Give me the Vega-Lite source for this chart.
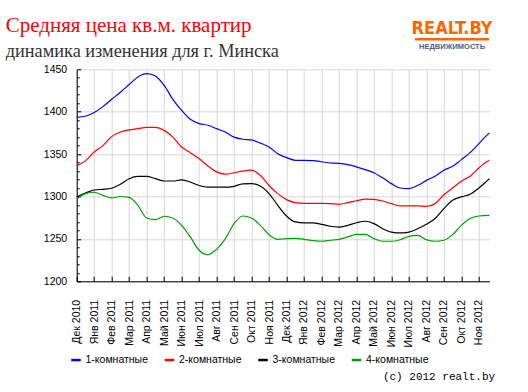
{
  "$schema": "https://vega.github.io/schema/vega-lite/v6.json",
  "width": 412.8,
  "height": 212,
  "autosize": {"type": "none"},
  "padding": {"left": 76.7, "top": 69.3, "right": 38.5, "bottom": 110.7},
  "background": "#ffffff",
  "title": {
    "text": "Средняя цена кв.м. квартир",
    "subtitle": "динамика изменения для г. Минска",
    "anchor": "start",
    "frame": "group",
    "dx": -71,
    "dy": 52,
    "offset": 12,
    "font": "Liberation Serif",
    "fontSize": 21,
    "fontWeight": "normal",
    "color": "#ff0000",
    "subtitleFont": "Liberation Serif",
    "subtitleFontSize": 18.3,
    "subtitleColor": "#333333",
    "subtitlePadding": 7
  },
  "config": {
    "view": {"stroke": null},
    "axis": {"labelFont": "Liberation Sans", "labelFontSize": 10.5, "labelColor": "#000000", "domainColor": "#000000", "tickColor": "#000000", "gridColor": "#d6d6d6", "gridWidth": 1, "title": null}
  },
  "resolve": {"axis": {"x": "independent", "y": "independent"}},
  "data": {
    "values": [
      {"m": 0, "a": 1393.4, "b": 1336.4, "c": 1299.5, "d": 1297},
      {"m": 0.5, "a": 1394.6, "b": 1342, "c": 1304, "d": 1303.4},
      {"m": 1, "a": 1399, "b": 1352.5, "c": 1307.7, "d": 1305},
      {"m": 1.5, "a": 1406, "b": 1360, "c": 1308.5, "d": 1301.4},
      {"m": 2, "a": 1414.6, "b": 1370.6, "c": 1309.7, "d": 1298.3},
      {"m": 2.5, "a": 1423, "b": 1376, "c": 1314.4, "d": 1300},
      {"m": 3, "a": 1432, "b": 1378.5, "c": 1321, "d": 1299},
      {"m": 3.5, "a": 1441, "b": 1380, "c": 1323.8, "d": 1289.6},
      {"m": 4, "a": 1445, "b": 1381.6, "c": 1323.8, "d": 1274.7},
      {"m": 4.5, "a": 1442, "b": 1381.6, "c": 1321, "d": 1272.7},
      {"m": 5, "a": 1431, "b": 1378, "c": 1318.3, "d": 1276.7},
      {"m": 5.5, "a": 1414.6, "b": 1370, "c": 1318.3, "d": 1274.7},
      {"m": 6, "a": 1401.6, "b": 1358.4, "c": 1319.5, "d": 1266},
      {"m": 6.5, "a": 1391, "b": 1351.7, "c": 1317, "d": 1252.3},
      {"m": 7, "a": 1386, "b": 1344.7, "c": 1313, "d": 1236.6},
      {"m": 7.5, "a": 1384, "b": 1336, "c": 1311, "d": 1231.4},
      {"m": 8, "a": 1380, "b": 1329, "c": 1311, "d": 1237.7},
      {"m": 8.5, "a": 1376, "b": 1326.4, "c": 1311, "d": 1250},
      {"m": 9, "a": 1370, "b": 1328, "c": 1312, "d": 1268},
      {"m": 9.5, "a": 1367.5, "b": 1330, "c": 1315, "d": 1277},
      {"m": 10, "a": 1366.7, "b": 1331, "c": 1315.2, "d": 1274.7},
      {"m": 10.5, "a": 1363, "b": 1325, "c": 1312.4, "d": 1266},
      {"m": 11, "a": 1358.4, "b": 1313, "c": 1303.4, "d": 1255},
      {"m": 11.5, "a": 1350.5, "b": 1303.4, "c": 1289.6, "d": 1249.5},
      {"m": 12, "a": 1345.8, "b": 1296.3, "c": 1277, "d": 1250.3},
      {"m": 12.5, "a": 1342.7, "b": 1292.8, "c": 1270, "d": 1250.7},
      {"m": 13, "a": 1342.7, "b": 1292, "c": 1268.8, "d": 1249.5},
      {"m": 13.5, "a": 1342.3, "b": 1292, "c": 1268.8, "d": 1248},
      {"m": 14, "a": 1341, "b": 1292, "c": 1267.2, "d": 1247.2},
      {"m": 14.5, "a": 1339.5, "b": 1291.6, "c": 1264.9, "d": 1248.4},
      {"m": 15, "a": 1339, "b": 1290.8, "c": 1264, "d": 1249.5},
      {"m": 15.5, "a": 1337.6, "b": 1292.8, "c": 1266, "d": 1252.3},
      {"m": 16, "a": 1335, "b": 1295, "c": 1269, "d": 1255.4},
      {"m": 16.5, "a": 1331.7, "b": 1297, "c": 1270.8, "d": 1255.4},
      {"m": 17, "a": 1328, "b": 1296.7, "c": 1268, "d": 1250.3},
      {"m": 17.5, "a": 1322, "b": 1294.7, "c": 1262, "d": 1247.2},
      {"m": 18, "a": 1315.2, "b": 1291.6, "c": 1258, "d": 1247.2},
      {"m": 18.5, "a": 1310, "b": 1289, "c": 1257, "d": 1249},
      {"m": 19, "a": 1309.3, "b": 1289, "c": 1258, "d": 1253},
      {"m": 19.5, "a": 1313, "b": 1289, "c": 1262, "d": 1254.2},
      {"m": 20, "a": 1319, "b": 1288.4, "c": 1267.2, "d": 1249},
      {"m": 20.5, "a": 1324, "b": 1291.6, "c": 1274, "d": 1247.2},
      {"m": 21, "a": 1331, "b": 1302, "c": 1285.7, "d": 1248.4},
      {"m": 21.5, "a": 1335.6, "b": 1310, "c": 1295.5, "d": 1255},
      {"m": 22, "a": 1343.5, "b": 1318, "c": 1299.5, "d": 1266},
      {"m": 22.5, "a": 1351.7, "b": 1324, "c": 1302.6, "d": 1274},
      {"m": 23, "a": 1362.3, "b": 1333.6, "c": 1310, "d": 1277},
      {"m": 23.5, "a": 1373, "b": 1341.5, "c": 1319, "d": 1277.8},
      {"m": 23.61, "a": 1375, "b": 1342.5, "c": 1321, "d": 1277.8}
    ]
  },
  "layer": [
    {
      "transform": [
        {"fold": ["a", "b", "c", "d"], "as": ["key", "v"]},
        {"lookup": "key", "from": {"data": {"values": [
          {"key": "a", "s": "1-комнатные"},
          {"key": "b", "s": "2-комнатные"},
          {"key": "c", "s": "3-комнатные"},
          {"key": "d", "s": "4-комнатные"}
        ]}, "key": "key", "fields": ["s"]}}
      ],
      "mark": {"type": "line", "interpolate": "monotone", "strokeWidth": 1.2},
      "encoding": {
        "x": {
          "field": "m", "type": "quantitative",
          "scale": {"domain": [0, 23.61], "nice": false, "zero": false},
          "axis": {
            "values": [0,1,2,3,4,5,6,7,8,9,10,11,12,13,14,15,16,17,18,19,20,21,22,23],
            "labelExpr": "['Дек 2010','Янв 2011','Фев 2011','Мар 2011','Апр 2011','Май 2011','Июн 2011','Июл 2011','Авг 2011','Сен 2011','Окт 2011','Ноя 2011','Дек 2011','Янв 2012','Фев 2012','Мар 2012','Апр 2012','Май 2012','Июн 2012','Июл 2012','Авг 2012','Сен 2012','Окт 2012','Ноя 2012'][datum.value]",
            "labelAngle": 270,
            "labelAlign": "right",
            "labelBaseline": "middle",
            "labelOverlap": false,
            "labelPadding": 23,
            "tickSize": -5,
            "grid": true
          }
        },
        "y": {
          "field": "v", "type": "quantitative",
          "scale": {"domain": [1200, 1450], "nice": false, "zero": false},
          "axis": {
            "values": [1200,1210,1220,1230,1240,1250,1260,1270,1280,1290,1300,1310,1320,1330,1340,1350,1360,1370,1380,1390,1400,1410,1420,1430,1440,1450],
            "labelExpr": "datum.value % 50 === 0 ? '' + datum.value : ''",
            "labelOverlap": false,
            "gridOpacity": {"condition": {"test": "datum.value % 50 === 0", "value": 1}, "value": 0},
            "tickSize": {"condition": {"test": "datum.value % 50 === 0", "value": -4}, "value": -2.5},
            "labelPadding": 14,
            "grid": true
          }
        },
        "color": {
          "field": "s", "type": "nominal",
          "scale": {"domain": ["1-комнатные", "2-комнатные", "3-комнатные", "4-комнатные"], "range": ["#0000ff", "#ff0000", "#000000", "#00a000"]},
          "legend": {
            "title": null,
            "orient": "none",
            "legendX": -6.7,
            "legendY": 284.5,
            "direction": "horizontal",
            "columns": 4,
            "columnPadding": 10.5,
            "gridAlign": "all",
            "symbolType": "stroke",
            "symbolSize": 90,
            "symbolStrokeWidth": 2.5,
            "labelOffset": 3.5,
            "labelFont": "Liberation Sans",
            "labelFontSize": 10.5,
            "labelColor": "#000000",
            "padding": 0
          }
        }
      }
    },
    {
      "data": {"values": [{"label": "REALT.BY"}]},
      "mark": {"type": "text", "font": "Liberation Sans Narrow, DejaVu Sans Condensed, sans-serif", "fontWeight": "bold", "fontSize": 18, "color": "#ff6600", "align": "center", "baseline": "alphabetic", "clip": false},
      "encoding": {"text": {"field": "label"}, "x": {"datum": 21.47, "axis": null}, "y": {"datum": 1491.3, "axis": null}}
    },
    {
      "data": {"values": [{"label": "НЕДВИЖИМОСТЬ"}]},
      "mark": {"type": "text", "font": "Liberation Sans", "fontWeight": "bold", "fontSize": 7.5, "color": "#4a5f8a", "align": "center", "baseline": "alphabetic", "clip": false},
      "encoding": {"text": {"field": "label"}, "x": {"datum": 21.47, "axis": null}, "y": {"datum": 1473.6, "axis": null}}
    },
    {
      "data": {"values": [{"a": 19.35, "b": 23.59}]},
      "mark": {"type": "rule", "color": "#ff6600", "strokeWidth": 2.5, "clip": false},
      "encoding": {"x": {"field": "a", "type": "quantitative", "axis": null}, "x2": {"field": "b"}, "y": {"datum": 1485.4, "axis": null}}
    },
    {
      "data": {"values": [{"label": "(c) 2012 realt.by"}]},
      "mark": {"type": "text", "font": "Liberation Mono", "fontSize": 11, "color": "#000000", "align": "right", "baseline": "alphabetic", "clip": false},
      "encoding": {"text": {"field": "label"}, "x": {"datum": 23.93, "axis": null}, "y": {"datum": 1083.6, "axis": null}}
    }
  ]
}
